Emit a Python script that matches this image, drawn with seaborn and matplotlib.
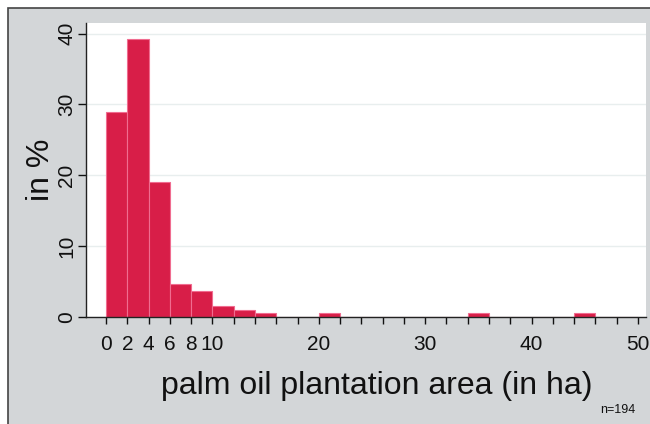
import numpy as np
import pandas as pd
import matplotlib.pyplot as plt
import seaborn as sns
from matplotlib.patches import Rectangle

# histogram of plantation size, bins of 2 ha, share in %
bin_left = [0, 2, 4, 6, 8, 10, 12, 14, 20, 34, 44]
percent = [28.9, 39.2, 19.1, 4.6, 3.6, 1.5, 1.0, 0.5, 0.5, 0.5, 0.5]
edges = list(range(0, 52, 2))
tick_labels = {0: '0', 2: '2', 4: '4', 6: '6', 8: '8', 10: '10',
               20: '20', 30: '30', 40: '40', 50: '50'}
n_obs = 194

df = pd.DataFrame({'area': np.array(bin_left) + 1, 'pct': percent})

sns.set_style('white')
plt.rcParams['font.family'] = ['Liberation Sans', 'DejaVu Sans']

fig = plt.figure(figsize=(6.5, 4.24), dpi=100, facecolor='white')
# grey frame of the graph region
fig.patches.append(Rectangle((8 / 650, -0.1), 1.2, 1 - 8 / 424 + 0.1,
                             transform=fig.transFigure, facecolor='#d3d6d8',
                             edgecolor='#444444', linewidth=1.2, zorder=-10))

ax = fig.add_axes([86 / 650, 1 - 317 / 424, 560 / 650, 294 / 424])
ax.set_facecolor('white')

sns.histplot(data=df, x='area', weights='pct', bins=edges,
             color='#d81e48', edgecolor='#f06c90', linewidth=0.8,
             alpha=1, ax=ax)

ax.set_xlim(-1.88, 50.75)
ax.set_ylim(0, 41.5)

ax.set_xticks(edges)
ax.set_xticklabels([tick_labels.get(int(t), '') for t in edges])
ax.set_yticks([0, 10, 20, 30, 40])
ax.tick_params(axis='x', bottom=True, length=5, width=1, labelsize=15, pad=8,
               colors='#111111')
ax.tick_params(axis='y', left=True, length=6, width=1, labelsize=15, pad=1,
               labelrotation=90, colors='#111111')
for lab in ax.get_yticklabels():
    lab.set_va('center')

ax.yaxis.grid(True, color='#e8eeee', linewidth=1)
ax.set_axisbelow(True)

for s in ['top', 'right']:
    ax.spines[s].set_visible(False)
for s in ['left', 'bottom']:
    ax.spines[s].set_color('#222222')
    ax.spines[s].set_linewidth(1)

ax.set_xlabel('palm oil plantation area (in ha)', fontsize=23, color='#111111')
ax.xaxis.set_label_coords(0.52, -0.185)
ax.set_ylabel('in %', fontsize=23, color='#111111')
ax.yaxis.set_label_coords(-0.054, 0.5)

fig.text(600 / 650, 1 - 410 / 424, f'n={n_obs}', fontsize=9,
         color='#111111', va='center')

fig.savefig('out.png', dpi=100, facecolor=fig.get_facecolor())
